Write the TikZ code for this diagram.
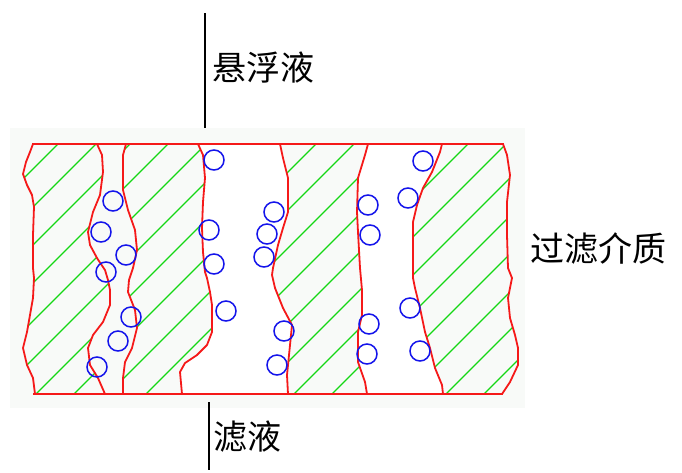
\documentclass[tikz,border=0pt]{standalone}
\usepackage{fontspec}
\newfontfamily\cjk{Noto Sans CJK SC}
\definecolor{wallred}{RGB}{245,25,25}
\definecolor{hatchgreen}{RGB}{20,215,20}
\definecolor{grainblue}{RGB}{20,20,235}
\definecolor{paper}{RGB}{248,250,248}
\tikzset{
  wall/.style={draw=wallred, line width=1.8pt, line join=round},
  hatchline/.style={draw=hatchgreen, line width=1.1pt},
  particle/.style={circle, draw=grainblue, line width=1.5pt, minimum size=20pt, inner sep=0pt},
  flowline/.style={draw=black, line width=1.6pt},
  label/.style={font=\cjk\fontsize{34}{40}\selectfont, anchor=west, inner sep=0pt}
}
\begin{document}
\begin{tikzpicture}[x=1pt, y=-1pt]
\useasboundingbox (0,0) rectangle (682,472);
\fill[white] (0,0) rectangle (682,472);
\fill[paper] (10,128) rectangle (525,408);

% channel outlines (left to right)
\def\edgeL{(33,144) -- (30,152) -- (26,162) -- (23,174) -- (27,185) -- (32,195) -- (34,207) -- (33,235) -- (33,268) -- (34,278) -- (33,298) -- (30,315) -- (27,332) -- (23,348) -- (27,365) -- (33,378) -- (35,394)}
\def\edgeLr{(35,394) -- (33,378) -- (27,365) -- (23,348) -- (27,332) -- (30,315) -- (33,298) -- (34,278) -- (33,268) -- (33,235) -- (34,207) -- (32,195) -- (27,185) -- (23,174) -- (26,162) -- (30,152) -- (33,144)}
\def\edgeA{(97,144) -- (102,155) -- (103,172) -- (100,195) -- (93,212) -- (88,232) -- (90,245) -- (97,258) -- (105,270) -- (108,280) -- (110,290) -- (110,305) -- (103,322) -- (93,335) -- (88,348) -- (90,365) -- (98,378) -- (105,394)}
\def\edgeB{(126,144) -- (123,155) -- (123,190) -- (128,210) -- (135,230) -- (137,250) -- (133,268) -- (129,280) -- (128,292) -- (135,310) -- (137,328) -- (132,348) -- (125,362) -- (123,378) -- (123,394)}
\def\edgeC{(198,144) -- (203,155) -- (205,178) -- (203,202) -- (202,228) -- (203,252) -- (205,272) -- (207,278) -- (210,292) -- (212,305) -- (212,332) -- (207,345) -- (197,355) -- (185,363) -- (180,372) -- (182,394)}
\def\edgeCr{(182,394) -- (180,372) -- (185,363) -- (197,355) -- (207,345) -- (212,332) -- (212,305) -- (210,292) -- (207,278) -- (205,272) -- (203,252) -- (202,228) -- (203,202) -- (205,178) -- (203,155) -- (198,144)}
\def\edgeD{(280,144) -- (283,158) -- (288,178) -- (288,212) -- (283,228) -- (278,245) -- (273,268) -- (272,275) -- (275,288) -- (283,308) -- (292,325) -- (290,345) -- (287,375) -- (288,394)}
\def\edgeDr{(288,394) -- (287,375) -- (290,345) -- (292,325) -- (283,308) -- (275,288) -- (272,275) -- (273,268) -- (278,245) -- (283,228) -- (288,212) -- (288,178) -- (283,158) -- (280,144)}
\def\edgeE{(368,144) -- (365,155) -- (358,178) -- (357,212) -- (358,232) -- (360,268) -- (362,290) -- (362,315) -- (358,332) -- (358,362) -- (365,382) -- (367,394)}
\def\edgeEr{(367,394) -- (365,382) -- (358,362) -- (358,332) -- (362,315) -- (362,290) -- (360,268) -- (358,232) -- (357,212) -- (358,178) -- (365,155) -- (368,144)}
\def\edgeF{(442,144) -- (440,152) -- (432,172) -- (423,188) -- (417,205) -- (413,222) -- (413,268) -- (413,278) -- (415,288) -- (420,308) -- (425,332) -- (430,348) -- (435,368) -- (442,385) -- (443,394)}
\def\edgeFr{(443,394) -- (442,385) -- (435,368) -- (430,348) -- (425,332) -- (420,308) -- (415,288) -- (413,278) -- (413,268) -- (413,222) -- (417,205) -- (423,188) -- (432,172) -- (440,152) -- (442,144)}
\def\edgeR{(503,144) -- (507,155) -- (510,175) -- (507,202) -- (507,235) -- (508,268) -- (512,278) -- (508,298) -- (510,318) -- (515,335) -- (518,348) -- (518,365) -- (510,382) -- (502,394)}
\def\edgeRr{(502,394) -- (510,382) -- (518,365) -- (518,348) -- (515,335) -- (510,318) -- (508,298) -- (512,278) -- (508,268) -- (507,235) -- (507,202) -- (510,175) -- (507,155) -- (503,144)}

% open channels between the solid layers
\fill[white] \edgeC -- \edgeDr -- cycle;
\fill[white] \edgeE -- \edgeFr -- cycle;

% hatched solid layers
\begin{scope}
  \clip (33,144) -- \edgeA -- \edgeLr -- cycle;
  \foreach \c in {164,202,...,506} \draw[hatchline] (\c-130,130) -- (\c-410,410);
\end{scope}
\begin{scope}
  \clip \edgeB -- \edgeCr -- cycle;
  \foreach \c in {274,312,...,616} \draw[hatchline] (\c-130,130) -- (\c-410,410);
\end{scope}
\begin{scope}
  \clip \edgeD -- \edgeEr -- cycle;
  \foreach \c in {422,460,...,764} \draw[hatchline] (\c-130,130) -- (\c-410,410);
\end{scope}
\begin{scope}
  \clip \edgeF -- \edgeRr -- cycle;
  \foreach \c in {536,574,...,916} \draw[hatchline] (\c-130,130) -- (\c-410,410);
\end{scope}

% outlines
\draw[wall] \edgeL;
\draw[wall] \edgeA;
\draw[wall] \edgeB;
\draw[wall] \edgeC;
\draw[wall] \edgeD;
\draw[wall] \edgeE;
\draw[wall] \edgeF;
\draw[wall] \edgeR;
\draw[wall] (32,144) -- (504,144);
\draw[wall] (33,394) -- (503,394);

% suspended particles
\foreach \n/\p in {a1/{(113,201)}, a2/{(101,232)}, a3/{(126,255)}, a4/{(106,272)},
                   a5/{(131,317)}, a6/{(118,341)}, a7/{(97,367)},
                   b1/{(214,160)}, b2/{(209,230)}, b3/{(214,264)}, b4/{(226,311)},
                   c1/{(274,212)}, c2/{(267,234)}, c3/{(264,257)}, c4/{(284,331)}, c5/{(277,365)},
                   d1/{(423,161)}, d2/{(408,198)}, d3/{(368,205)}, d4/{(370,235)},
                   d5/{(369,324)}, d6/{(367,354)}, d7/{(410,308)}, d8/{(420,351)}}
  \node[particle] (\n) at \p {};

% flow lines and labels
\coordinate (feedTop) at (205,13);
\coordinate (feedEnd) at (205,128);
\coordinate (outTop) at (209,402);
\coordinate (outEnd) at (209,470);
\draw[flowline] (feedTop) -- (feedEnd);
\draw[flowline] (outTop) -- (outEnd);
\node[label] (feed) at (212,68) {悬浮液};
\node[label] (filtrate) at (213,437) {滤液};
\node[label] (medium) at (530,249) {过滤介质};
\end{tikzpicture}
\end{document}
